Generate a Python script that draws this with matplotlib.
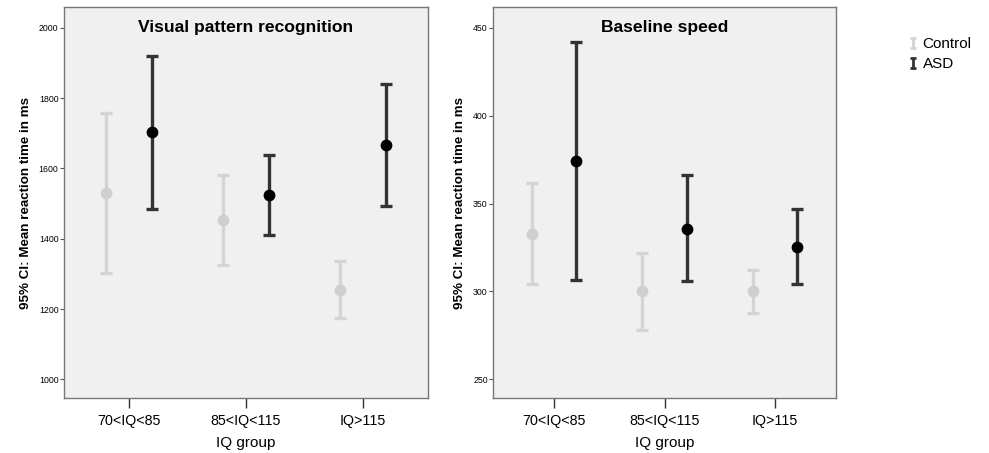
"""Reaction time by IQ group, Control vs ASD, two panels."""

import matplotlib as mpl
import matplotlib.pyplot as plt
import numpy as np
from matplotlib.lines import Line2D
from matplotlib.path import Path

GROUPS = ["70<IQ<85", "85<IQ<115", "IQ>115"]

# Visual pattern recognition (ms)
VPR_CONTROL_MEAN = [1529, 1453, 1255]
VPR_CONTROL_LO = [1302, 1325, 1175]
VPR_CONTROL_HI = [1757, 1580, 1337]
VPR_ASD_MEAN = [1703, 1525, 1666]
VPR_ASD_LO = [1485, 1411, 1494]
VPR_ASD_HI = [1921, 1639, 1841]

# Baseline speed (ms)
BASE_CONTROL_MEAN = [332.7, 300.0, 300.0]
BASE_CONTROL_LO = [304.5, 278.0, 288.0]
BASE_CONTROL_HI = [361.5, 322.0, 312.0]
BASE_ASD_MEAN = [374.3, 335.8, 325.5]
BASE_ASD_LO = [306.5, 306.0, 304.0]
BASE_ASD_HI = [442.0, 366.3, 347.0]

CONTROL_BAR = "#d4d4d4"
CONTROL_DOT = "#cfcfcf"
ASD_BAR = "#333333"
ASD_DOT = "#000000"

# little I-beam used as the legend key, like an error bar with caps
IBEAM = Path(
    [(-0.6, 1), (0.6, 1), (0, 1), (0, -1), (-0.6, -1), (0.6, -1)],
    [Path.MOVETO, Path.LINETO, Path.MOVETO, Path.LINETO, Path.MOVETO, Path.LINETO],
)


def draw_panel(ax, title, ctrl, asd, ylim, yticks):
    x = np.arange(len(GROUPS))
    for (mean, lo, hi), offset, bar_c, dot_c in (
        (ctrl, -0.2, CONTROL_BAR, CONTROL_DOT),
        (asd, 0.2, ASD_BAR, ASD_DOT),
    ):
        mean = np.asarray(mean, dtype=float)
        err = np.vstack([mean - np.asarray(lo), np.asarray(hi) - mean])
        ax.errorbar(x + offset, mean, yerr=err, fmt="none", ecolor=bar_c,
                    elinewidth=2.4, capsize=4.3, capthick=2.4, zorder=2)
        ax.scatter(x + offset, mean, s=72, color=dot_c, zorder=3, linewidths=0)

    ax.set_facecolor("#f0f0f0")
    ax.set_xlim(-0.555, 2.555)
    ax.set_ylim(*ylim)
    ax.set_yticks(yticks)
    ax.set_xticks(x)
    ax.set_xticklabels(GROUPS, fontsize=10.3)
    ax.tick_params(axis="y", labelsize=6.3, length=3, width=0.8, color="#555555", pad=1)
    ax.tick_params(axis="x", length=7, width=1.0, color="#333333", pad=4)
    for spine in ax.spines.values():
        spine.set_color("#777777")
        spine.set_linewidth(1.0)
    ax.set_xlabel("IQ group", fontsize=11, labelpad=6)
    ax.set_ylabel("95% CI: Mean reaction time in ms", fontsize=9.6, fontweight="bold", labelpad=5)
    ax.text(0.5, 0.948, title, transform=ax.transAxes, ha="center", va="center",
            fontsize=12.6, fontweight="bold")


def main():
    mpl.rcParams.update({"font.family": "Liberation Sans"})
    fig = plt.figure(figsize=(9.89, 4.53), dpi=100)
    ax1 = fig.add_axes([0.0647, 0.1208, 0.368, 0.8627])
    ax2 = fig.add_axes([0.4988, 0.1208, 0.3462, 0.8627])

    draw_panel(ax1, "Visual pattern recognition",
               (VPR_CONTROL_MEAN, VPR_CONTROL_LO, VPR_CONTROL_HI),
               (VPR_ASD_MEAN, VPR_ASD_LO, VPR_ASD_HI),
               (946, 2058), [1000, 1200, 1400, 1600, 1800, 2000])
    draw_panel(ax2, "Baseline speed",
               (BASE_CONTROL_MEAN, BASE_CONTROL_LO, BASE_CONTROL_HI),
               (BASE_ASD_MEAN, BASE_ASD_LO, BASE_ASD_HI),
               (239.2, 461.6), [250, 300, 350, 400, 450])

    handles = [
        Line2D([], [], linestyle="none", marker=IBEAM, markersize=7.5,
               markeredgewidth=2.0, color=CONTROL_BAR),
        Line2D([], [], linestyle="none", marker=IBEAM, markersize=7.5,
               markeredgewidth=2.0, color=ASD_BAR),
    ]
    fig.legend(handles=handles, labels=["Control", "ASD"], loc="upper left",
               bbox_to_anchor=(0.919, 0.918), frameon=False, fontsize=11,
               handlelength=0.5, handletextpad=0.4, labelspacing=0.4, borderaxespad=0,
               borderpad=0)

    fig.savefig("out.png", dpi=100)
    plt.close(fig)


if __name__ == "__main__":
    main()
